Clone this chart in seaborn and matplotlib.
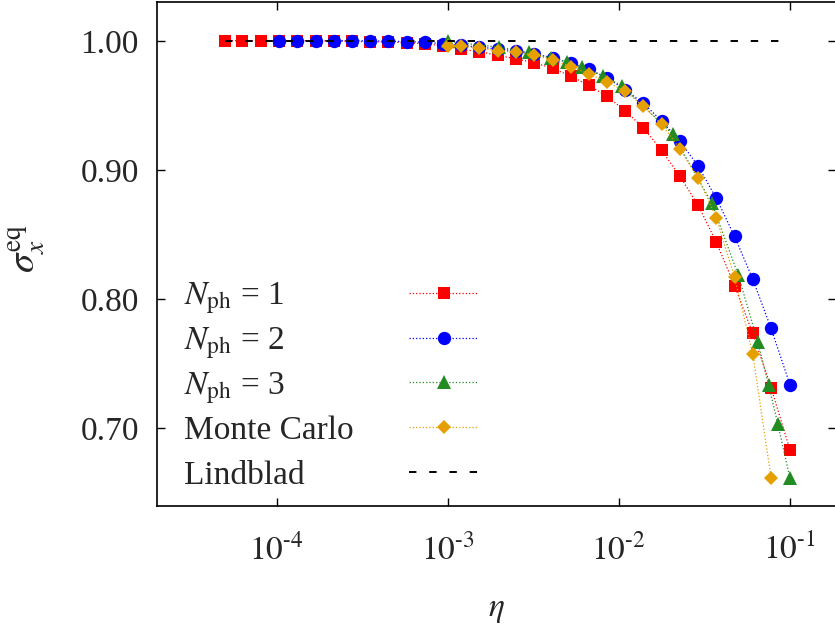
import matplotlib
matplotlib.use("Agg")
import matplotlib.pyplot as plt
import seaborn as sns

# N_ph = 1 (red squares)
eta_n1 = [5.0e-5, 6.3e-5, 8.1e-5, 1.03e-4, 1.32e-4, 1.69e-4, 2.16e-4, 2.76e-4,
          3.52e-4, 4.5e-4, 5.75e-4, 7.35e-4, 9.4e-4, 1.2e-3, 1.53e-3, 1.96e-3,
          2.5e-3, 3.2e-3, 4.1e-3, 5.23e-3, 6.68e-3, 8.54e-3, 1.09e-2, 1.39e-2,
          1.78e-2, 2.28e-2, 2.91e-2, 3.72e-2, 4.75e-2, 6.07e-2, 7.76e-2, 0.1]
sig_n1 = [1.0, 1.0, 1.0, 1.0, 1.0, 0.9999, 0.9998, 0.9996, 0.9993, 0.999,
          0.9985, 0.9976, 0.9962, 0.9935, 0.9915, 0.9888, 0.986, 0.983,
          0.9787, 0.9727, 0.9654, 0.957, 0.9458, 0.9327, 0.9152, 0.895,
          0.8727, 0.844, 0.8106, 0.7735, 0.7317, 0.6837]

# N_ph = 2 (blue circles)
eta_n2 = [1.03e-4, 1.32e-4, 1.69e-4, 2.16e-4, 2.76e-4, 3.52e-4, 4.5e-4, 5.75e-4,
          7.35e-4, 9.4e-4, 1.2e-3, 1.53e-3, 1.96e-3, 2.5e-3, 3.2e-3, 4.1e-3,
          5.23e-3, 6.68e-3, 8.54e-3, 1.09e-2, 1.39e-2, 1.78e-2, 2.28e-2, 2.91e-2,
          3.72e-2, 4.75e-2, 6.07e-2, 7.76e-2, 0.1]
sig_n2 = [1.0, 1.0, 1.0, 1.0, 1.0, 0.9999, 0.9997, 0.9994, 0.9988, 0.9978,
          0.9965, 0.995, 0.9937, 0.992, 0.9898, 0.987, 0.9826, 0.978, 0.9714,
          0.962, 0.9517, 0.938, 0.9222, 0.903, 0.878, 0.8487, 0.8154, 0.7775,
          0.734]

# N_ph = 3 (green triangles)
eta_n3 = [1.0e-3, 2.0e-3, 3.0e-3, 4.0e-3, 5.0e-3, 6.1e-3, 8.1e-3, 1.04e-2,
          2.07e-2, 3.5e-2, 5.0e-2, 6.5e-2, 7.5e-2, 8.5e-2, 0.1]
sig_n3 = [0.9995, 0.995, 0.991, 0.9866, 0.9835, 0.9796, 0.9727, 0.9653,
          0.9277, 0.8743, 0.8185, 0.7667, 0.734, 0.7035, 0.6617]

# Monte Carlo (orange diamonds)
eta_mc = [1.0e-3, 1.2e-3, 1.53e-3, 1.96e-3, 2.5e-3, 3.2e-3, 4.1e-3, 5.23e-3,
          6.68e-3, 8.54e-3, 1.09e-2, 1.39e-2, 1.78e-2, 2.28e-2, 2.91e-2,
          3.72e-2, 4.75e-2, 6.07e-2, 7.76e-2]
sig_mc = [0.9962, 0.9958, 0.9943, 0.9923, 0.991, 0.989, 0.985, 0.98, 0.9745,
          0.968, 0.961, 0.9494, 0.9355, 0.916, 0.894, 0.8627, 0.817, 0.7574,
          0.662]

# Lindblad
eta_lb = [5.0e-5, 0.1]
sig_lb = [1.0, 1.0]

xticks = [1e-4, 1e-3, 1e-2, 1e-1]
xticklabels = [r"$10^{\text{-}4}$", r"$10^{\text{-}3}$", r"$10^{\text{-}2}$", r"$10^{\text{-}1}$"]
yticks = [1.00, 0.90, 0.80, 0.70]
yticklabels = ["1.00", "0.90", "0.80", "0.70"]

sns.set_theme(style="ticks")
plt.rcParams["font.family"] = ["Liberation Serif", "DejaVu Serif"]
plt.rcParams["mathtext.fontset"] = "stix"
plt.rcParams["font.size"] = 24

fig = plt.figure(figsize=(8.35, 6.39), dpi=100)
ax = fig.add_axes([0.188, 0.2081, 0.8132, 0.7888])

series = [
    (eta_n1, sig_n1, "#ff0000", "s", 9.2, r"$N_{\mathrm{ph}}$ = 1"),
    (eta_n2, sig_n2, "#0000ff", "o", 9.6, r"$N_{\mathrm{ph}}$ = 2"),
    (eta_n3, sig_n3, "#228b22", "^", 9.6, r"$N_{\mathrm{ph}}$ = 3"),
    (eta_mc, sig_mc, "#e69f00", "D", 7.6, "Monte Carlo"),
]
for xs, ys, c, m, ms, lab in series:
    sns.lineplot(x=xs, y=ys, ax=ax, color=c, marker=m, markersize=ms,
                 markeredgewidth=0, linestyle=":", linewidth=0.9,
                 estimator=None, label=lab)

sns.lineplot(x=eta_lb, y=sig_lb, ax=ax, color="black", linewidth=1.4,
             linestyle=(0, (3.8, 6.6)), estimator=None, label="Lindblad")

ax.set_xscale("log")
ax.set_xlim(2.0e-5, 0.186)
ax.set_ylim(0.64, 1.03)
ax.set_xticks(xticks)
ax.set_xticklabels(xticklabels)
ax.xaxis.set_minor_locator(matplotlib.ticker.NullLocator())
ax.set_yticks(yticks)
ax.set_yticklabels(yticklabels)
ax.tick_params(which="major", direction="in", length=5.5, width=1.0,
               top=True, right=True, labelsize=24, color="black")
ax.tick_params(axis="x", pad=20)
ax.tick_params(axis="y", pad=13)
for sp in ax.spines.values():
    sp.set_linewidth(1.2)
    sp.set_color("black")

ax.set_xlabel(r"$\eta$", fontsize=24, labelpad=20)
ax.set_ylabel(r"$\sigma_x^{\mathrm{eq}}$", fontsize=28)
ax.yaxis.set_label_coords(-0.16, 0.51)

# legend: samples on the right, labels left-justified like gnuplot
handles, labels = ax.get_legend_handles_labels()
leg = ax.legend(handles, [""] * len(handles), loc="center left",
                bbox_to_anchor=(409 / 835, 0.3963), bbox_transform=fig.transFigure,
                frameon=False, handlelength=2.07, handletextpad=0,
                labelspacing=0.43, borderpad=0, borderaxespad=0,
                numpoints=1, fontsize=24)
fig.canvas.draw()
inv = fig.transFigure.inverted()
for line, lab in zip(leg.get_lines(), labels):
    bb = line.get_window_extent()
    yc = inv.transform((0, (bb.y0 + bb.y1) / 2))[1]
    fig.text(184 / 835, yc - 12 / 639, lab, ha="left", va="baseline", fontsize=24)

fig.savefig("out.png", dpi=100)
